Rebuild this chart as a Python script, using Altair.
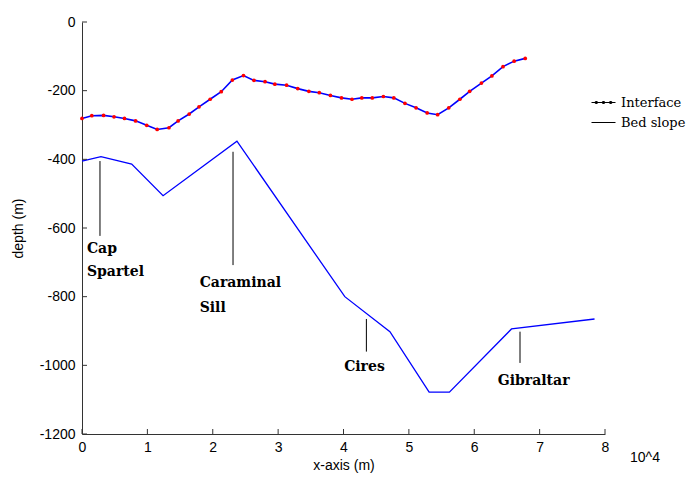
import altair as alt
import pandas as pd

# ---- data (x in units of 10^4 m, depth in m) ----
interface_x = [0.00, 0.15, 0.33, 0.49, 0.65, 0.82, 0.99, 1.15, 1.33, 1.47, 1.64, 1.79,
               1.96, 2.13, 2.30, 2.47, 2.63, 2.80, 2.95, 3.13, 3.30, 3.47, 3.63, 3.80,
               3.97, 4.13, 4.28, 4.44, 4.61, 4.77, 4.94, 5.11, 5.28, 5.44, 5.61, 5.78,
               5.93, 6.11, 6.27, 6.44, 6.61, 6.78]
interface_depth = [-281, -273, -272, -276, -281, -288, -301, -313, -308, -288, -268, -247,
                   -225, -203, -169, -156, -170, -174, -181, -184, -194, -202, -206, -214,
                   -221, -225, -221, -221, -217, -221, -237, -250, -265, -270, -250, -225,
                   -202, -178, -157, -130, -114, -106]

bed_x = [0.00, 0.29, 0.76, 1.24, 2.37, 4.02, 4.71, 5.31, 5.62, 6.57, 7.84]
bed_depth = [-405, -392, -414, -506, -347, -800, -902, -1078, -1078, -894, -865]

ann_line_x = [0.275, 2.31, 4.35, 6.70]
ann_line_top = [-405, -378, -865, -902]
ann_line_bottom = [-623, -708, -960, -993]

label_text = ["Cap", "Spartel", "Caraminal", "Sill", "Cires", "Gibraltar"]
label_x = [0.076, 0.076, 1.80, 1.80, 4.01, 6.36]
label_depth = [-661, -728, -760, -833, -1005, -1046]

x_ticks = [0, 1, 2, 3, 4, 5, 6, 7, 8]
y_ticks = [-1200, -1000, -800, -600, -400, -200, 0]

series_names = ["Interface", "Bed slope"]

# ---- tables ----
interface_df = pd.DataFrame({"x": interface_x, "depth": interface_depth})
bed_df = pd.DataFrame({"x": bed_x, "depth": bed_depth})
ann_df = pd.DataFrame({"x": ann_line_x, "top": ann_line_top, "bottom": ann_line_bottom})
lab_df = pd.DataFrame({"x": label_x, "depth": label_depth, "text": label_text})
xt_df = pd.DataFrame({"x": x_ticks})
yt_df = pd.DataFrame({"depth": y_ticks})
leg_df = pd.DataFrame({"x": [-1.0, -1.0], "depth": [0, 0], "series": series_names})

W, H = 523, 412

xscale = alt.Scale(domain=[0, 8], nice=False, zero=False)
yscale = alt.Scale(domain=[-1200, 0], nice=False, zero=False)

common_axis = dict(grid=False, ticks=False, tickSize=0, labelFont="Liberation Sans",
                   labelFontSize=14, labelColor="black", titleFont="Liberation Sans",
                   titleFontSize=14, titleFontWeight="normal", titleColor="black",
                   domainColor="#333333", domainWidth=1, labelFlush=False,
                   labelExpr="'' + datum.value")
xaxis = alt.Axis(values=x_ticks, title="x-axis (m)", labelPadding=6, titlePadding=4, **common_axis)
yaxis = alt.Axis(values=y_ticks, title="depth (m)", labelPadding=7, titleX=-57, **common_axis)


def X(field="x"):
    return alt.X(f"{field}:Q", scale=xscale, axis=xaxis)


def Y(field="depth"):
    return alt.Y(f"{field}:Q", scale=yscale, axis=yaxis)


bed_line = alt.Chart(bed_df).mark_line(color="#0000ff", strokeWidth=1.3).encode(
    x=X(), y=Y(), order="x:Q")

int_line = alt.Chart(interface_df).mark_line(color="#0000ff", strokeWidth=1.6).encode(
    x=X(), y=Y(), order="x:Q")

int_pts = alt.Chart(interface_df).mark_circle(color="#ff0000", size=14, opacity=1).encode(
    x=X(), y=Y())

ann_lines = alt.Chart(ann_df).mark_rule(color="black", strokeWidth=1).encode(
    x=X(), y=Y("top"), y2="bottom:Q")

ann_text = alt.Chart(lab_df).mark_text(
    font="DejaVu Serif", fontWeight="bold", fontSize=14, align="left",
    baseline="middle", color="black").encode(x=X(), y=Y(), text="text:N")

x_tick_marks = alt.Chart(xt_df).mark_rule(color="#333333", strokeWidth=1).encode(
    x=X(), y=alt.value(H), y2=alt.value(H - 5))

y_tick_marks = alt.Chart(yt_df).mark_rule(color="#333333", strokeWidth=1).encode(
    y=Y(), x=alt.value(0), x2=alt.value(5))

exp_text = alt.Chart(pd.DataFrame({"t": ["10^4"]})).mark_text(
    font="Liberation Sans", fontSize=14, align="left", baseline="middle",
    color="black").encode(x=alt.value(W + 25), y=alt.value(H + 24), text="t:N")

interface_symbol = ("M-1,0H1"
                    "M-0.68,-0.08h0.16v0.16h-0.16z"
                    "M-0.08,-0.08h0.16v0.16h-0.16z"
                    "M0.52,-0.08h0.16v0.16h-0.16z")
line_symbol = "M-1,0H1"

legend_layer = alt.Chart(leg_df).mark_point(
    filled=False, clip=True, color="black", opacity=1, strokeWidth=1).encode(
    x=X(), y=Y(),
    shape=alt.Shape("series:N",
                    scale=alt.Scale(domain=series_names, range=[interface_symbol, line_symbol]),
                    legend=alt.Legend(title=None, orient="none", legendX=509, legendY=68,
                                      symbolSize=576, symbolStrokeWidth=1,
                                      symbolStrokeColor="black",
                                      labelFont="DejaVu Serif", labelFontSize=13,
                                      labelColor="black", labelOffset=5,
                                      rowPadding=0, padding=0)))

chart = alt.layer(
    bed_line, int_line, int_pts, ann_lines, ann_text,
    x_tick_marks, y_tick_marks, exp_text, legend_layer
).properties(
    width=W, height=H,
    autosize="none",
    padding={"left": 82, "top": 22, "right": 694 - 82 - W, "bottom": 482 - 22 - H},
    background="white",
).configure_view(stroke=None)

chart.save("out.html", embed_options={"renderer": "svg", "actions": False})
